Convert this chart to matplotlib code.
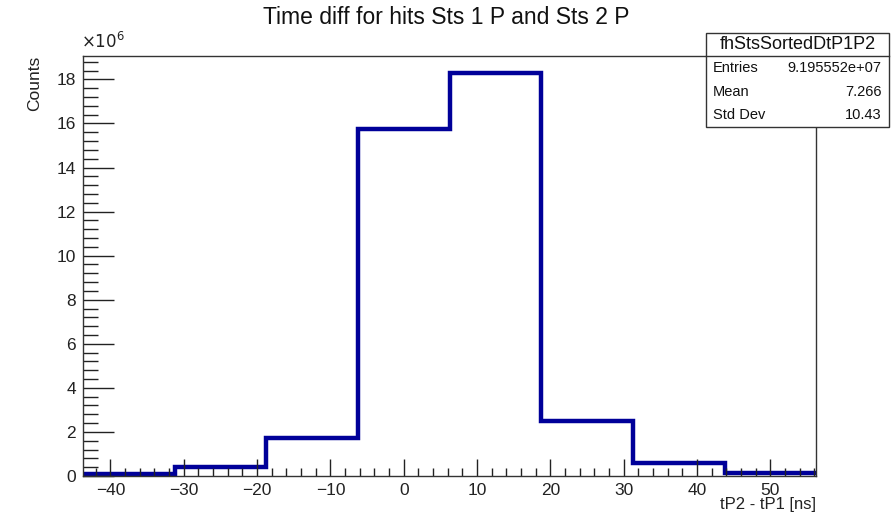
"""Step histogram of the Sts 1 P / Sts 2 P hit time difference, ROOT style."""

import matplotlib.pyplot as plt
from matplotlib.patches import Rectangle
from matplotlib.ticker import MultipleLocator, FuncFormatter

plt.rcParams["font.family"] = ["Liberation Sans", "DejaVu Sans"]

# Histogram content (counts per bin, in units of 1e6)
bin_edges = [-43.75, -31.25, -18.75, -6.25, 6.25, 18.75, 31.25, 43.75, 56.25]
counts_e6 = [0.10, 0.40, 1.72, 15.77, 18.27, 2.50, 0.59, 0.15]

hist_name = "fhStsSortedDtP1P2"
stat_labels = ["Entries", "Mean", "Std Dev"]
stat_values = ["9.195552e+07", "7.266", "10.43"]

fig = plt.figure(figsize=(8.92, 5.14), dpi=100)
ax = fig.add_axes([0.093, 0.074, 0.822, 0.817])

ax.stairs(counts_e6, bin_edges, baseline=None, color="#000099", linewidth=3.2)

ax.set_xlim(bin_edges[0], bin_edges[-1])
ax.set_ylim(0, 19.06)

ax.xaxis.set_major_locator(MultipleLocator(10))
ax.xaxis.set_minor_locator(MultipleLocator(2))
ax.yaxis.set_major_locator(MultipleLocator(2))
ax.yaxis.set_minor_locator(MultipleLocator(0.4))
ax.xaxis.set_major_formatter(FuncFormatter(lambda v, p: f"{v:.0f}".replace("-", "\u2212")))

ax.tick_params(axis="both", which="both", direction="in", labelsize=12.5,
               colors="#222222", width=1)
ax.tick_params(axis="x", which="major", length=12, pad=5)
ax.tick_params(axis="x", which="minor", length=6)
ax.tick_params(axis="y", which="major", length=22, pad=5)
ax.tick_params(axis="y", which="minor", length=11)
ax.tick_params(top=False, right=False, which="both")
for s in ax.spines.values():
    s.set_color("#333333")
    s.set_linewidth(1)

fig.text(0.091, 0.900, r"$\times10^{6}$", fontsize=12, color="#222222",
         ha="left", va="bottom")

ax.set_xlabel("tP2 - tP1 [ns]", fontsize=12, color="#222222")
ax.xaxis.set_label_coords(1.0, -0.051)
ax.xaxis.label.set_horizontalalignment("right")
ax.set_ylabel("Counts", fontsize=12.5, color="#222222")
ax.yaxis.set_label_coords(-0.056, 1.0)
ax.yaxis.label.set_horizontalalignment("right")

fig.text(0.5, 1 - 18 / 514, "Time diff for hits Sts 1 P and Sts 2 P", fontsize=16.5,
         ha="center", va="center", color="#111111")

# Statistics box in the top right corner
bx0, bx1 = 0.7915, 0.9966
by_top, by_sep, by_bot = 1 - 33 / 514, 1 - 56 / 514, 1 - 127 / 514
fig.add_artist(Rectangle((bx0, by_bot), bx1 - bx0, by_top - by_bot,
                         transform=fig.transFigure, facecolor="white",
                         edgecolor="#333333", linewidth=1, zorder=5))
fig.add_artist(plt.Line2D([bx0, bx1], [by_sep, by_sep], transform=fig.transFigure,
                          color="#333333", linewidth=1, zorder=6))
fig.text((bx0 + bx1) / 2, (by_top + by_sep) / 2, hist_name, fontsize=13,
         ha="center", va="center", color="#111111", zorder=7)
row_h = (by_sep - by_bot) / len(stat_labels)
for i, (lab, val) in enumerate(zip(stat_labels, stat_values)):
    yc = by_sep - (i + 0.5) * row_h
    fig.text(bx0 + 0.008, yc, lab, fontsize=10.5, ha="left", va="center",
             color="#111111", zorder=7)
    fig.text(bx1 - 0.008, yc, val, fontsize=10.5, ha="right", va="center",
             color="#111111", zorder=7)

fig.savefig("out.png", dpi=100)
